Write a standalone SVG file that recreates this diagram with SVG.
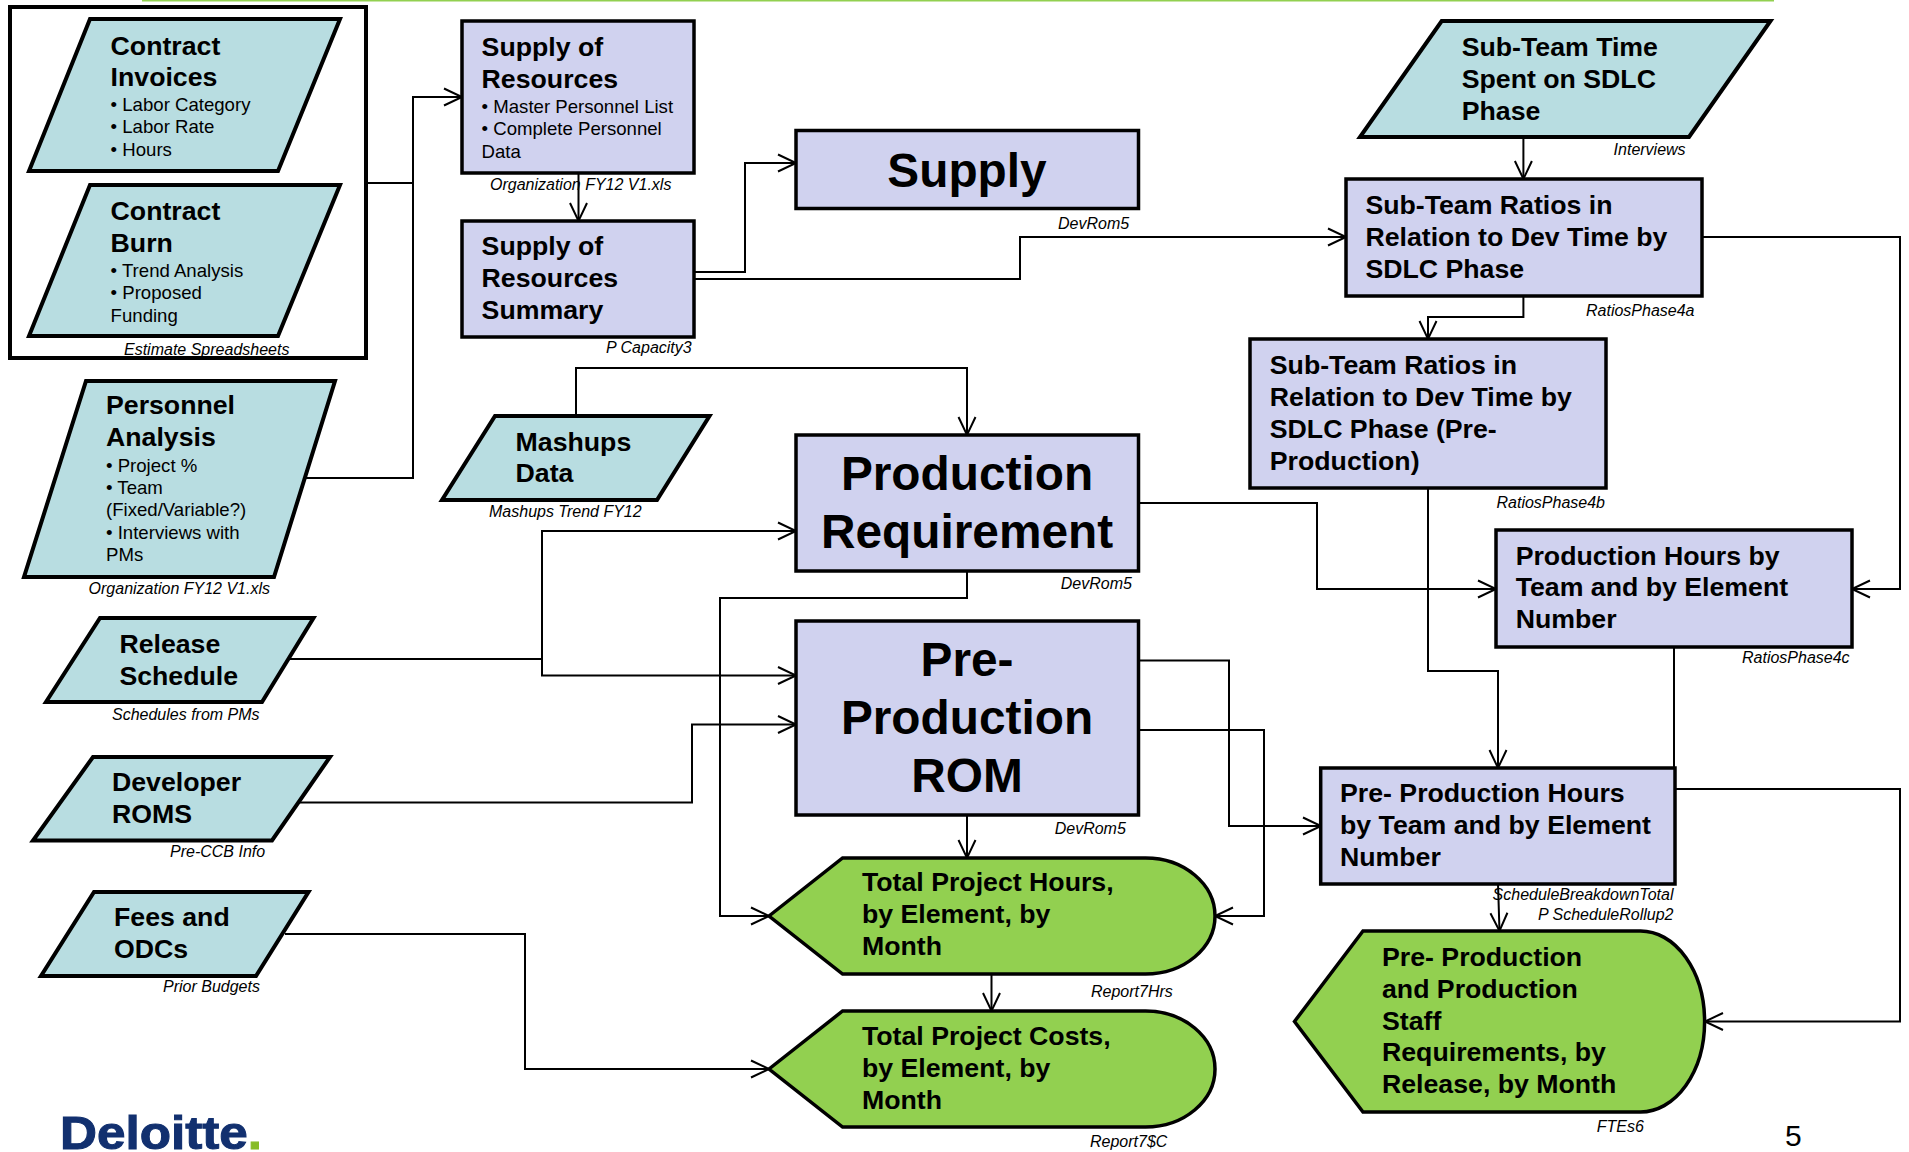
<svg xmlns="http://www.w3.org/2000/svg" width="1909" height="1152" viewBox="0 0 1909 1152">
<defs>
<style>
text{font-family:"Liberation Sans",Arial,sans-serif;fill:#000}
.h{font-size:26.700px;font-weight:700;transform:translateY(-0.800px)}
.b{font-size:18.600px;transform:translateY(-0.400px)}
.c{font-size:16px;font-style:italic}
.big{font-size:47.800px;font-weight:700;text-anchor:middle}
.t{fill:#b8dde1;stroke:#000;stroke-width:4}
.l{fill:#d0d2ef;stroke:#000;stroke-width:3.500}
.g{fill:#92d050;stroke:#000;stroke-width:3.500}
.w{fill:#fff;stroke:#000;stroke-width:4}
.e{fill:none;stroke:#000;stroke-width:2}
.a{fill:none;stroke:#000;stroke-width:2;marker-end:url(#v)}
</style>
<marker id="v" markerUnits="userSpaceOnUse" markerWidth="24" markerHeight="24" refX="20" refY="12" orient="auto" overflow="visible"><path d="M2,3.500 L20,12 L2,20.500" fill="none" stroke="#000" stroke-width="2"/></marker>
</defs>
<rect width="1909" height="1152" fill="#fff"/>
<rect id="topline" x="142" y="0" width="1632" height="1.500" fill="#92d050"/>
<g id="estimate-group"><rect class="w" x="10" y="7" width="356" height="351"/><text class="c" x="124" y="355">Estimate Spreadsheets</text></g>
<g id="connectors">
<path class="a" d="M366,183H413V97H462"/>
<path class="e" d="M305,478H413V183"/>
<path class="a" d="M578.500,173V221"/>
<path class="a" d="M695,272H745V163H796"/>
<path class="a" d="M695,279H1020V237H1346"/>
<path class="a" d="M1523.400,137V179"/>
<path class="a" d="M1523.400,296V317H1428V339"/>
<path class="a" d="M1702,237H1900V589H1852"/>
<path class="a" d="M576,416V368H967V435"/>
<path class="a" d="M290,659H542V531H796"/>
<path class="a" d="M542,659V675.500H796"/>
<path class="a" d="M300,802.500H692V724.500H796"/>
<path class="a" d="M285,934H525V1069H769"/>
<path class="a" d="M967,571V598H720V916H769"/>
<path class="a" d="M1139,503H1317V589H1496"/>
<path class="a" d="M1428,488V671H1498V768"/>
<path class="e" d="M1674,647V770"/>
<path class="a" d="M1675,789H1900V1021.500H1705"/>
<path class="a" d="M1139,660.500H1229V826H1321"/>
<path class="a" d="M1139,730H1264V916H1215"/>
<path class="a" d="M967,815V858"/>
<path class="a" d="M991.500,974V1011"/>
<path class="a" d="M1498,884L1499.500,931"/>
</g>
<g id="contract-invoices"><polygon class="t" points="90,19 340,19 278,171 29,171"/><text class="h" x="110.600" y="55.500">Contract</text><text class="h" x="110.600" y="87">Invoices</text><text class="b" x="110.600" y="111">• Labor Category</text><text class="b" x="110.600" y="133">• Labor Rate</text><text class="b" x="110.600" y="156">• Hours</text></g>
<g id="contract-burn"><polygon class="t" points="90,185 340,185 278,336 29,336"/><text class="h" x="110.600" y="221">Contract</text><text class="h" x="110.600" y="252.600">Burn</text><text class="b" x="110.600" y="277.500">• Trend Analysis</text><text class="b" x="110.600" y="299.600">• Proposed</text><text class="b" x="110.600" y="322">Funding</text></g>
<g id="personnel-analysis"><polygon class="t" points="86,381 335,381 274,577 24,577"/><text class="h" x="106" y="415">Personnel</text><text class="h" x="106" y="447">Analysis</text><text class="b" x="106" y="472.600">• Project %</text><text class="b" x="106" y="494">• Team</text><text class="b" x="106" y="516.600">(Fixed/Variable?)</text><text class="b" x="106" y="539">• Interviews with</text><text class="b" x="106" y="561">PMs</text><text class="c" x="88.600" y="594">Organization  FY12  V1.xls</text></g>
<g id="supply-of-resources"><rect class="l" x="462" y="21" width="232" height="152"/><text class="h" x="481.600" y="56.600">Supply of</text><text class="h" x="481.600" y="89">Resources</text><text class="b" x="481.600" y="113">• Master Personnel List</text><text class="b" x="481.600" y="135">• Complete Personnel</text><text class="b" x="481.600" y="158">Data</text><text class="c" x="490" y="190">Organization  FY12 V1.xls</text></g>
<g id="supply-summary"><rect class="l" x="462" y="221" width="232" height="116"/><text class="h" x="481.600" y="255.600">Supply of</text><text class="h" x="481.600" y="288">Resources</text><text class="h" x="481.600" y="319.600">Summary</text><text class="c" x="606" y="353">P Capacity3</text></g>
<g id="mashups"><polygon class="t" points="495,416 709.500,416 657,500 442,500"/><text class="h" x="515.600" y="451.600">Mashups</text><text class="h" x="515.600" y="483">Data</text><text class="c" x="489" y="516.600">Mashups Trend FY12</text></g>
<g id="release"><polygon class="t" points="100,618 313.500,618 262,702 46,702"/><text class="h" x="119.400" y="653.700">Release</text><text class="h" x="119.400" y="685.800">Schedule</text><text class="c" x="112" y="719.500">Schedules from PMs</text></g>
<g id="developer"><polygon class="t" points="93,757 330,757 272,840.500 33,840.500"/><text class="h" x="112" y="791.600">Developer</text><text class="h" x="112" y="823.700">ROMS</text><text class="c" x="170" y="857">Pre-CCB Info</text></g>
<g id="fees"><polygon class="t" points="94,892 308.500,892 256,976 41,976"/><text class="h" x="114" y="926.600">Fees and</text><text class="h" x="114" y="958.700">ODCs</text><text class="c" x="163" y="992">Prior Budgets</text></g>
<g id="deloitte"><text x="60" y="1149" font-size="46" font-weight="700" textLength="202" lengthAdjust="spacingAndGlyphs" style="fill:#12306f;stroke:#12306f;stroke-width:1">Deloitte<tspan style="fill:#86bc25;stroke:#86bc25">.</tspan></text></g>
<g id="supply"><rect class="l" x="796" y="130.500" width="342.500" height="78"/><text class="big" x="967" y="187">Supply</text><text class="c" x="1058" y="228.500">DevRom5</text></g>
<g id="sub-team-time"><polygon class="t" points="1441.700,21 1770.500,21 1689,137 1360,137"/><text class="h" x="1461.700" y="56.600">Sub-Team Time</text><text class="h" x="1461.700" y="88.800">Spent on SDLC</text><text class="h" x="1461.700" y="120.500">Phase</text><text class="c" x="1613.600" y="155">Interviews</text></g>
<g id="ratios"><rect class="l" x="1346" y="179" width="356" height="117"/><text class="h" x="1365.400" y="215">Sub-Team Ratios in</text><text class="h" x="1365.400" y="247">Relation to Dev Time by</text><text class="h" x="1365.400" y="278.600">SDLC Phase</text><text class="c" x="1586" y="315.700">RatiosPhase4a</text></g>
<g id="ratios-pre"><rect class="l" x="1250" y="339" width="356" height="149"/><text class="h" x="1269.800" y="375">Sub-Team Ratios in</text><text class="h" x="1269.800" y="406.800">Relation to Dev Time by</text><text class="h" x="1269.800" y="438.600">SDLC Phase (Pre-</text><text class="h" x="1269.800" y="470.700">Production)</text><text class="c" x="1496.500" y="507.800">RatiosPhase4b</text></g>
<g id="production-requirement"><rect class="l" x="796" y="435" width="342.500" height="136"/><text class="big" x="967" y="490">Production</text><text class="big" x="967" y="548">Requirement</text><text class="c" x="1060.800" y="588.600">DevRom5</text></g>
<g id="production-hours"><rect class="l" x="1496" y="530" width="356" height="117"/><text class="h" x="1515.700" y="565.600">Production Hours by</text><text class="h" x="1515.700" y="597">Team and by Element</text><text class="h" x="1515.700" y="629">Number</text><text class="c" x="1742" y="662.500">RatiosPhase4c</text></g>
<g id="rom"><rect class="l" x="796" y="621" width="342.500" height="194"/><text class="big" x="967" y="675.600">Pre-</text><text class="big" x="967" y="734">Production</text><text class="big" x="967" y="792">ROM</text><text class="c" x="1054.700" y="833.600">DevRom5</text></g>
<g id="pre-production-hours"><rect class="l" x="1320.700" y="768" width="354.300" height="116"/><text class="h" x="1340" y="802.500">Pre- Production Hours</text><text class="h" x="1340" y="834.600">by Team and by Element</text><text class="h" x="1340" y="866.400">Number</text><text class="c" x="1492.600" y="900">ScheduleBreakdownTotal</text><text class="c" x="1538" y="920">P ScheduleRollup2</text></g>
<g id="total-hours"><path class="g" d="M769,916L842.600,858H1145.600A69.400,58 0 0 1 1145.600,974H842.600Z"/><text class="h" x="862" y="892">Total Project Hours,</text><text class="h" x="862" y="924">by Element, by</text><text class="h" x="862" y="955.800">Month</text><text class="c" x="1091" y="996.600">Report7Hrs</text></g>
<g id="total-costs"><path class="g" d="M769,1069L842.600,1011H1145.600A69.400,58 0 0 1 1145.600,1127H842.600Z"/><text class="h" x="862" y="1046">Total Project Costs,</text><text class="h" x="862" y="1078">by Element, by</text><text class="h" x="862" y="1109.700">Month</text><text class="c" x="1090" y="1147">Report7$C</text></g>
<g id="staff"><path class="g" d="M1294.500,1021.500L1363,931H1640.600A64,90.500 0 0 1 1640.600,1112H1363Z"/><text class="h" x="1382" y="966.700">Pre- Production</text><text class="h" x="1382" y="998.500">and Production</text><text class="h" x="1382" y="1030.600">Staff</text><text class="h" x="1382" y="1062">Requirements, by</text><text class="h" x="1382" y="1094">Release, by Month</text><text class="c" x="1596.700" y="1131.600">FTEs6</text></g>
<text id="page" x="1785" y="1146" font-size="30">5</text>
</svg>
